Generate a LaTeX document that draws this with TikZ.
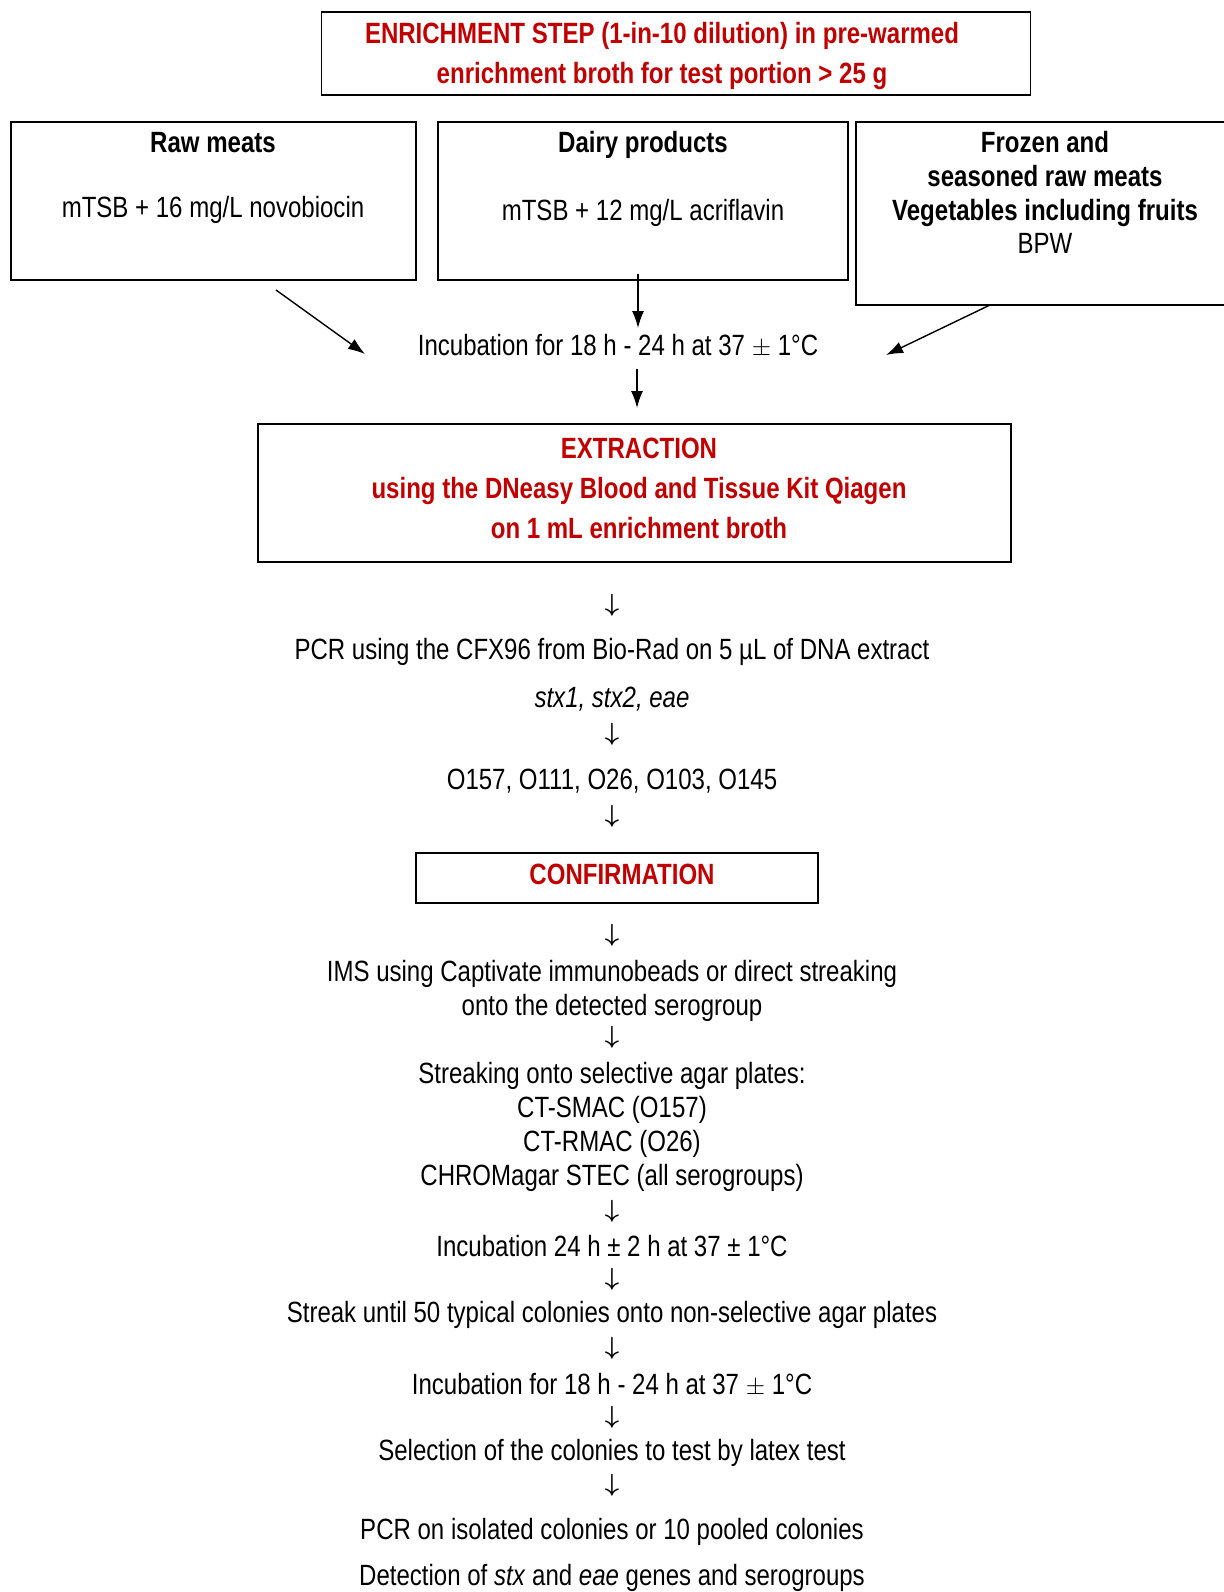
\documentclass[tikz,border=0pt]{standalone}
\usepackage{fontspec}
\setmainfont[FakeStretch=0.82]{Liberation Sans}
\usepackage{tikz}
\usetikzlibrary{arrows.meta}
\usetikzlibrary{positioning}
\definecolor{darkred}{RGB}{192,0,0}
\tikzset{>=latex}
\tikzstyle{box} = [rectangle, draw = black, line width = 1.6pt, inner sep = 0]
\tikzstyle{txt} = [draw = none, inner sep = 0, align = center, yshift = -2.5pt, font = \fontsize{29.3}{34}\selectfont]
\tikzstyle{redtxt} = [txt, text = darkred, font = \fontsize{29.3}{40}\selectfont\bfseries]
\tikzstyle{btxt} = [txt, font = \fontsize{29.3}{34}\selectfont\bfseries]
\tikzstyle{dwn} = [draw = none, inner sep = 0, yshift = -1pt, font = \fontsize{29}{34}\selectfont\boldmath]
\tikzstyle{flow} = [-{Latex[length=17pt, width=12pt]}, line width = 1.4pt]
\newcommand{\pmsym}{$\pm$}

\begin{document}
\begin{tikzpicture}[x = 1pt, y = -1pt]
\useasboundingbox (0, 0) rectangle (1223, 1592);

% enrichment
\node [box, minimum width = 709, minimum height = 83] (enrichbox) at (676, 53.5) {};
\node [redtxt] (enrich) at (662, 53) {ENRICHMENT STEP (1-in-10 dilution) in pre-warmed\\enrichment broth for test portion > 25 g};

\node [box, minimum width = 405, minimum height = 158] (rawbox) at (213.5, 201) {};
\node [btxt] (raw) at (213, 140) {Raw meats};
\node [txt] (rawmed) at (213, 207) {mTSB + 16 mg/L novobiocin};

\node [box, minimum width = 410, minimum height = 158] (dairybox) at (643, 201) {};
\node [btxt] (dairy) at (643, 142) {Dairy products};
\node [txt] (dairymed) at (643, 210) {mTSB + 12 mg/L acriflavin};

\node [box, minimum width = 378, minimum height = 183] (frozenbox) at (1045, 213.5) {};
\node [btxt] (frozen) at (1045, 176.5) {Frozen and\\seasoned raw meats\\Vegetables including fruits};
\node [txt] (frozenmed) at (1045, 240.5) {BPW};

\node [txt] (inc) at (618, 343) {Incubation for 18 h - 24 h at 37 \pmsym{} 1°C};
\coordinate (rawout) at (276, 290);
\coordinate (rawin) at (365, 354);
\coordinate (dairyout) at (638, 274);
\coordinate (dairyin) at (638, 328);
\coordinate (frozenout) at (990, 305);
\coordinate (frozenin) at (886, 355);
\coordinate (incout) at (637, 369);
\coordinate (extractin) at (637, 408);
\draw [flow] (rawout) to (rawin);
\draw [flow] (dairyout) to (dairyin);
\draw [flow] (frozenout) to (frozenin);
\draw [flow] (incout) to (extractin);

% extraction
\node [box, minimum width = 753, minimum height = 138] (extractbox) at (634.5, 493) {};
\node [redtxt] (extract) at (639, 486) {EXTRACTION\\using the DNeasy Blood and Tissue Kit Qiagen\\on 1 mL enrichment broth};

\node [dwn] (d1) at (612, 604) {$\downarrow$};
\node [txt] (pcr) at (612, 649) {PCR using the CFX96 from Bio-Rad on 5 µL of DNA extract};
\node [txt] (genes) at (612, 697) {\itshape stx1, stx2, eae};
\node [dwn] (d2) at (612, 733) {$\downarrow$};
\node [txt] (sero) at (612, 779) {O157, O111, O26, O103, O145};
\node [dwn] (d3) at (612, 815) {$\downarrow$};

% confirmation
\node [box, minimum width = 402, minimum height = 50] (confirmbox) at (617, 878) {};
\node [redtxt] (confirm) at (622, 872) {CONFIRMATION};

\node [dwn] (d4) at (612, 934) {$\downarrow$};
\node [txt] (ims) at (612, 988) {IMS using Captivate immunobeads or direct streaking\\onto the detected serogroup};
\node [dwn] (d5) at (612, 1036) {$\downarrow$};
\node [txt] (streak) at (612, 1124.5) {Streaking onto selective agar plates:\\CT-SMAC (O157)\\CT-RMAC (O26)\\CHROMagar STEC (all serogroups)};
\node [dwn] (d6) at (612, 1210) {$\downarrow$};
\node [txt] (inctwo) at (612, 1244) {Incubation 24 h ± 2 h at 37 ± 1°C};
\node [dwn] (d7) at (612, 1278) {$\downarrow$};
\node [txt] (nonsel) at (612, 1312) {Streak until 50 typical colonies onto non-selective agar plates};
\node [dwn] (d8) at (612, 1347) {$\downarrow$};
\node [txt] (incthree) at (612, 1382) {Incubation for 18 h - 24 h at 37 \pmsym{} 1°C};
\node [dwn] (d9) at (612, 1416) {$\downarrow$};
\node [txt] (select) at (612, 1450) {Selection of the colonies to test by latex test};
\node [dwn] (d10) at (612, 1484) {$\downarrow$};
\node [txt] (pcrcol) at (612, 1529) {PCR on isolated colonies or 10 pooled colonies};
\node [txt] (detect) at (612, 1575) {Detection of \textit{stx} and \textit{eae} genes and serogroups};
\end{tikzpicture}
\end{document}
